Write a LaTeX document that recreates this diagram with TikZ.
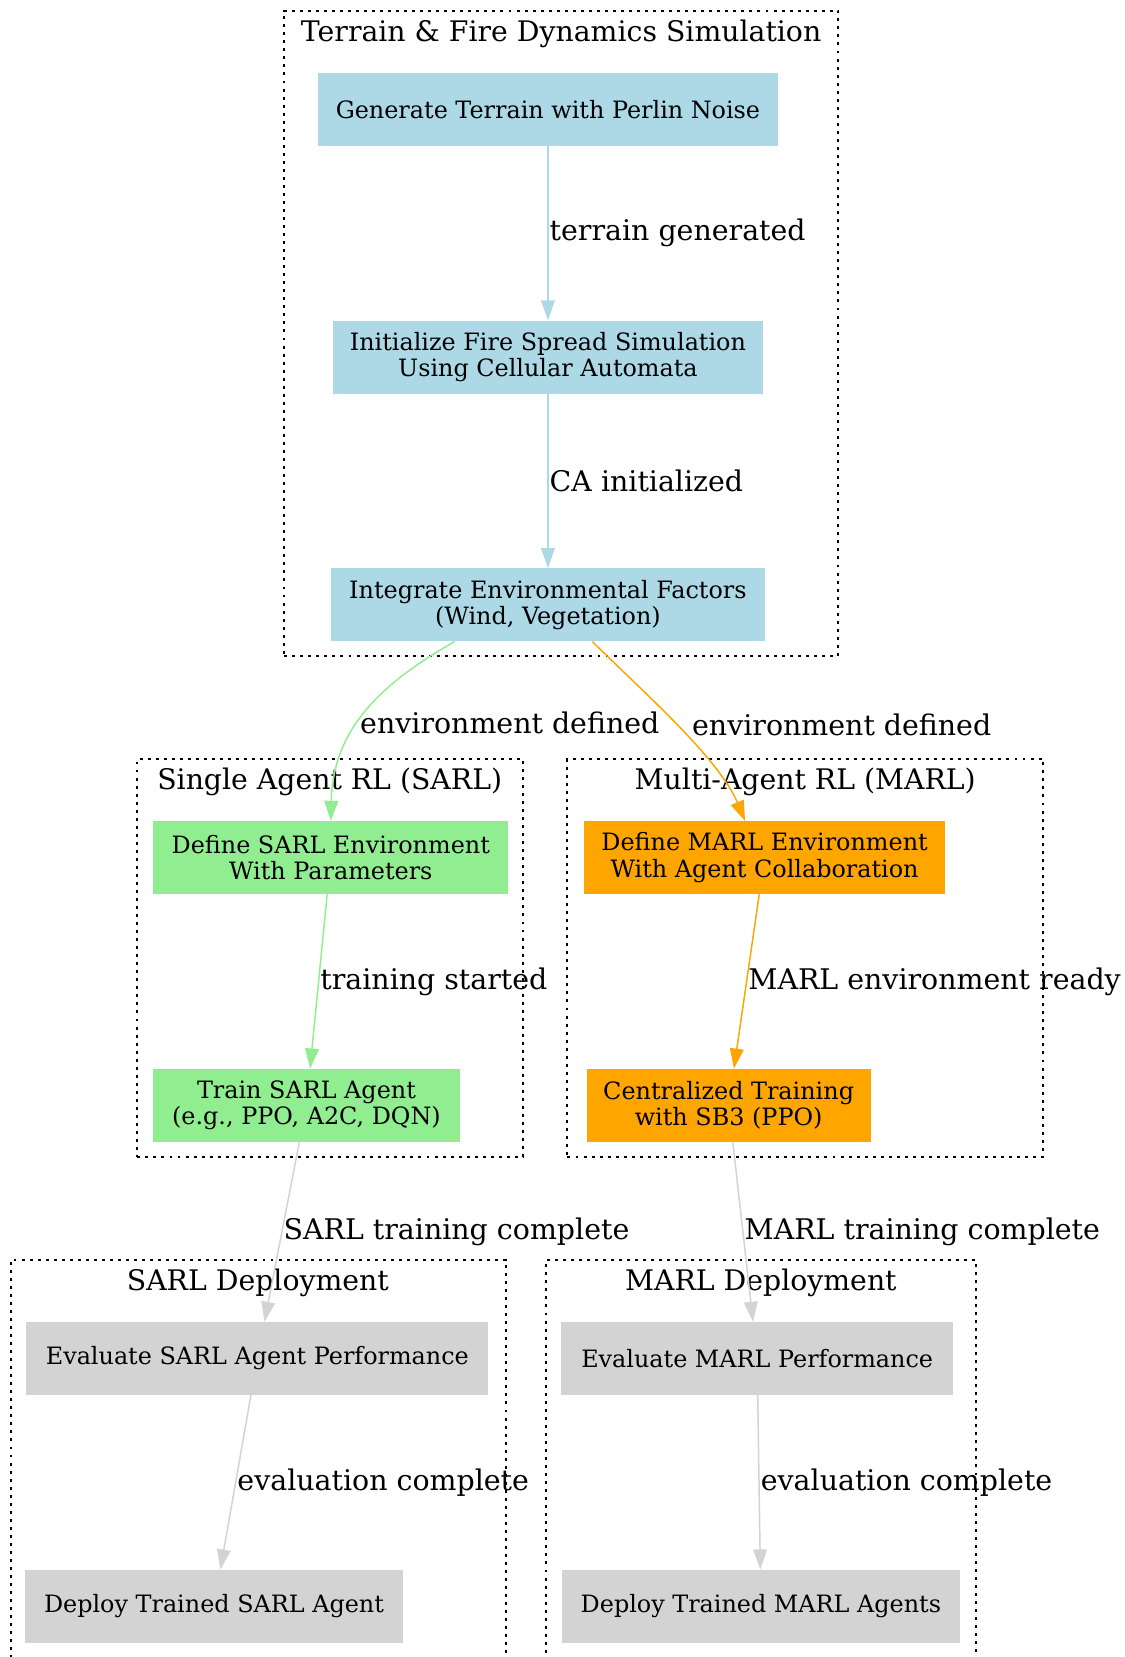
\documentclass[tikz,border=0pt]{standalone}
\usepackage{fontspec}
\setmainfont{DejaVu Serif}
\usepackage{xcolor}
\usetikzlibrary{fit}
\usetikzlibrary{positioning}
\usetikzlibrary{arrows.meta}
\definecolor{skyblue}{RGB}{173,216,230}
\definecolor{mintgreen}{RGB}{144,238,144}
\definecolor{amber}{RGB}{255,165,0}
\definecolor{ashgray}{RGB}{211,211,211}
\tikzset{%
  clusterbox/.style={rectangle,draw=black,line width=1.9pt,dash pattern=on 2.8pt off 4.8pt,inner sep=0pt}
}
\tikzset{%
  clustertitle/.style={anchor=base,inner sep=0pt,font=\fontsize{26.8}{31}\selectfont}
}
\tikzset{%
  stepnode/.style={rectangle,minimum height=69pt,inner sep=0pt,align=center,font=\fontsize{22.6}{25}\selectfont}
}
\tikzset{%
  flow/.style={line width=1.4pt,-{Triangle[length=19pt,width=13pt]}},
  edgelabel/.style={anchor=west,inner sep=1pt,text=black,font=\fontsize{26.9}{31}\selectfont}
}

\begin{document}
\begin{tikzpicture}[x=1pt,y=-1pt]
        \useasboundingbox (0,0) rectangle (1064,1568);
        \clip (0,0) rectangle (1064,1568);

        % clusters
        \node[clusterbox,fit={(269,10) (793,621)}](terrainbox){};
        \node[clustertitle](terraintitle) at (531,39){Terrain \& Fire Dynamics Simulation};
        \node[clusterbox,fit={(130,718) (495,1095)}](sarlbox){};
        \node[clustertitle](sarltitle) at (312,747){Single Agent RL (SARL)};
        \node[clusterbox,fit={(537,718) (987,1095)}](marlbox){};
        \node[clustertitle](marltitle) at (762,747){Multi-Agent RL (MARL)};
        \node[clusterbox,fit={(10,1192) (479,1620)}](sarldepbox){};
        \node[clustertitle](sarldeptitle) at (244,1221){SARL Deployment};
        \node[clusterbox,fit={(517,1192) (924,1620)}](marldepbox){};
        \node[clustertitle](marldeptitle) at (720,1221){MARL Deployment};

        % simulation steps
        \node[stepnode,fill=skyblue,minimum width=435pt](terrain) at (518.5,103.5){Generate Terrain with Perlin Noise};
        \node[stepnode,fill=skyblue,minimum width=407pt,below=165pt of terrain](firesim){Initialize Fire Spread Simulation\\Using Cellular Automata};
        \node[stepnode,fill=skyblue,minimum width=410pt,below=165pt of firesim](envfactors){Integrate Environmental Factors\\(Wind, Vegetation)};

        % sarl and marl
        \node[stepnode,fill=mintgreen,minimum width=336pt](sarlenv) at (313,811.5){Define SARL Environment\\With Parameters};
        \node[stepnode,fill=mintgreen,minimum width=290pt,below=165pt of sarlenv,xshift=-23pt](sarltrain){Train SARL Agent\\(e.g., PPO, A2C, DQN)};
        \node[stepnode,fill=amber,minimum width=341pt](marlenv) at (723.5,811.5){Define MARL Environment\\With Agent Collaboration};
        \node[stepnode,fill=amber,minimum width=269pt,below=165pt of marlenv,xshift=-34pt](marltrain){Centralized Training\\with SB3 (PPO)};

        % deployment
        \node[stepnode,fill=ashgray,minimum width=437pt](sarleval) at (243.5,1285.5){Evaluate SARL Agent Performance};
        \node[stepnode,fill=ashgray,minimum width=357pt,below=165pt of sarleval,xshift=-41pt](sarldeploy){Deploy Trained SARL Agent};
        \node[stepnode,fill=ashgray,minimum width=371pt](marleval) at (716.5,1285.5){Evaluate MARL Performance};
        \node[stepnode,fill=ashgray,minimum width=376pt,below=165pt of marleval,xshift=3.5pt](marldeploy){Deploy Trained MARL Agents};

        % edges
        \draw[flow,skyblue] (terrain) -- node[edgelabel]{terrain generated} (firesim);
        \draw[flow,skyblue] (firesim) -- node[edgelabel]{CA initialized} (envfactors);
        \draw[flow,mintgreen] ([xshift=-88pt]envfactors.south) .. controls +(-80,45) and +(2,-80) .. node[edgelabel,pos=0.53]{environment defined} (sarlenv.north);
        \draw[flow,amber] ([xshift=42pt]envfactors.south) .. controls +(45,45) and +(-25,-60) .. node[edgelabel,pos=0.5,xshift=13pt]{environment defined} ([xshift=-18.5pt]marlenv.north);
        \draw[flow,mintgreen] (sarlenv) -- node[edgelabel]{training started} (sarltrain);
        \draw[flow,amber] (marlenv) -- node[edgelabel]{MARL environment ready} (marltrain);
        \draw[flow,ashgray] (sarltrain) -- node[edgelabel]{SARL training complete} (sarleval);
        \draw[flow,ashgray] (marltrain) -- node[edgelabel]{MARL training complete} (marleval);
        \draw[flow,ashgray] (sarleval) -- node[edgelabel]{evaluation complete} (sarldeploy);
        \draw[flow,ashgray] (marleval) -- node[edgelabel]{evaluation complete} (marldeploy);
      \end{tikzpicture}
\end{document}
